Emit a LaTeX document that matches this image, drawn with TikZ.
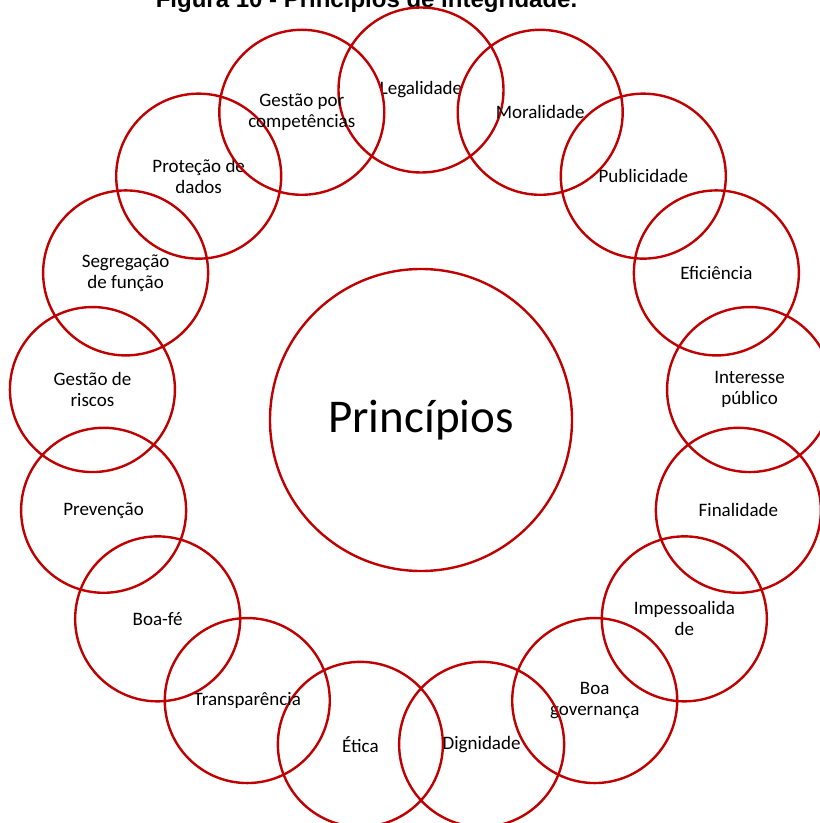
\documentclass[tikz,border=0pt]{standalone}
\usepackage{fontspec}
\setmainfont{Carlito}
\newfontfamily\titlefont{Liberation Sans}
\usepackage{xcolor}
\usepackage{tikz}
\usetikzlibrary{positioning}
\definecolor{ringred}{HTML}{C00000}

\begin{document}
\begin{tikzpicture}[x=1pt, y=1pt,
    hub/.style={circle, draw=ringred, line width=2.4pt, minimum size=302pt, inner sep=0pt, font=\fontsize{47}{56}\selectfont},
    principle/.style={circle, draw=ringred, line width=2.4pt, minimum size=165pt, inner sep=0pt, align=center, font=\fontsize{19}{21}\selectfont}]

    \useasboundingbox (0,0) rectangle (820,823);
    \clip (0,0) rectangle (820,823);

    % Title
    \node [anchor=base, font=\titlefont\bfseries\fontsize{24}{28}\selectfont] (title) at (366.5,815) {Figura 10 - Princípios de integridade.};

    % Centre
    \node [hub] (hub) at (421,403) {Princípios};

    % Principles, clockwise from the top
    \foreach \txt [count=\i] in {Legalidade, Moralidade, Publicidade, Eficiência, {Interesse\\público}, Finalidade, {Impessoalida\\de}, {Boa\\governança}, Dignidade, Ética, Transparência, Boa-fé, Prevenção, {Gestão de\\riscos}, {Segregação\\de função}, {Proteção de\\dados}, {Gestão por\\competências}}
        \node [principle] (p\i) at ([shift={({90-(\i-1)*360/17}:330pt)}]hub.center) {\txt};

\end{tikzpicture}
\end{document}
